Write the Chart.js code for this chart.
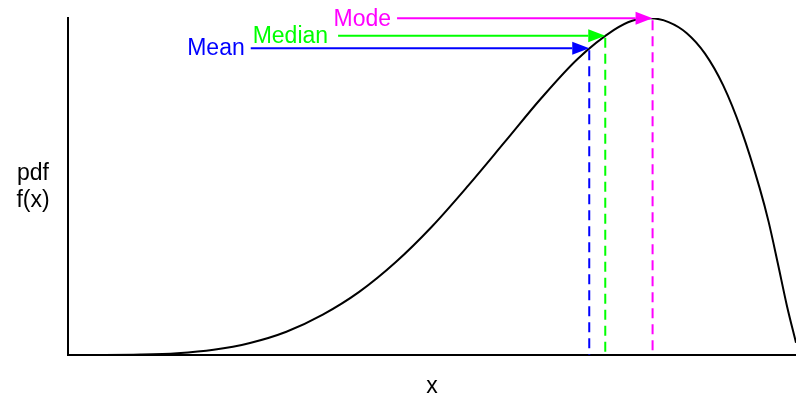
<!DOCTYPE html>
<html>
<head>
<meta charset="utf-8">
<script src="https://cdn.jsdelivr.net/npm/chart.js@4.4.1/dist/chart.umd.min.js"></script>
<style>
  html, body { margin: 0; padding: 0; background: #fff; }
  #wrap { width: 796px; height: 395px; position: relative; }
</style>
</head>
<body>
<div id="wrap"><canvas id="pdf"></canvas></div>
<script>
// curve (x on 0..1, pdf height)
const xs = [0, 0.05, 0.10, 0.15, 0.20, 0.25, 0.30, 0.35, 0.40, 0.45, 0.50, 0.55, 0.60, 0.65, 0.70, 0.75, 0.775, 0.80, 0.825, 0.85, 0.875, 0.90, 0.925, 0.95, 0.9625, 0.975, 0.9875, 1.0];
const ys = [0, 0.0002, 0.003, 0.013, 0.038, 0.088, 0.170, 0.295, 0.461, 0.677, 0.938, 1.238, 1.555, 1.874, 2.161, 2.373, 2.44, 2.458, 2.43, 2.349, 2.20, 1.968, 1.64, 1.22, 0.97, 0.67, 0.36, 0.09];

// mean / median / mode markers
const statNames = ['Mean', 'Median', 'Mode'];
const statColors = ['#0000ff', '#00ff00', '#ff00ff'];
const statX = [0.716, 0.738, 0.803];
const statY = [2.24, 2.33, 2.458];
const arrowFrom = [0.251, 0.371, 0.452];

const FONT = '23px "Liberation Sans", Arial, Helvetica, sans-serif';

const statsPlugin = {
    id: 'stats',
    afterDatasetsDraw(chart) {
        const { ctx, scales: { x, y } } = chart;
        ctx.save();
        statNames.forEach((name, i) => {
            const px = x.getPixelForValue(statX[i]);
            const py = y.getPixelForValue(statY[i]);
            const sx = x.getPixelForValue(arrowFrom[i]);
            ctx.strokeStyle = statColors[i];
            ctx.fillStyle = statColors[i];
            ctx.lineWidth = 2;

            // dashed drop line
            ctx.setLineDash([10, 6]);
            ctx.beginPath();
            ctx.moveTo(px, py + 2);
            ctx.lineTo(px, y.bottom);
            ctx.stroke();
            ctx.setLineDash([]);

            // arrow shaft + head
            const headLen = 17;
            ctx.beginPath();
            ctx.moveTo(sx, py);
            ctx.lineTo(px - headLen, py);
            ctx.stroke();
            ctx.beginPath();
            ctx.moveTo(px, py);
            ctx.lineTo(px - headLen, py - 6.5);
            ctx.lineTo(px - headLen, py + 6.5);
            ctx.closePath();
            ctx.fill();

            // label
            ctx.font = FONT;
            ctx.textAlign = 'right';
            ctx.textBaseline = 'middle';
            ctx.fillText(name, sx - (i === 1 ? 10 : 6), py + 1);
        });

        // axis titles
        ctx.fillStyle = '#000';
        ctx.font = FONT;
        ctx.textAlign = 'center';
        ctx.textBaseline = 'alphabetic';
        ctx.fillText('pdf', 33, 180);
        ctx.fillText('f(x)', 33, 207);
        ctx.fillText('x', (x.left + x.right) / 2, 393);
        ctx.restore();
    }
};

document.addEventListener('DOMContentLoaded', () => {
    const canvas = document.getElementById('pdf');
    new Chart(canvas.getContext('2d'), {
        type: 'line',
        data: {
            datasets: [{
                data: xs.map((v, i) => ({ x: v, y: ys[i] })),
                borderColor: '#000',
                borderWidth: 2,
                pointRadius: 0,
                cubicInterpolationMode: 'monotone',
                fill: false
            }]
        },
        options: {
            responsive: true,
            maintainAspectRatio: false,
            animation: false,
            layout: { padding: { left: 60, top: 18, right: 0, bottom: 32 } },
            plugins: { legend: { display: false }, tooltip: { enabled: false } },
            scales: {
                x: {
                    type: 'linear', min: 0, max: 1,
                    ticks: { display: false },
                    grid: { display: false },
                    border: { color: '#000', width: 2 }
                },
                y: {
                    min: 0, max: 2.46,
                    ticks: { display: false },
                    grid: { display: false },
                    border: { color: '#000', width: 2 }
                }
            }
        },
        plugins: [statsPlugin]
    });
});
</script>
</body>
</html>
